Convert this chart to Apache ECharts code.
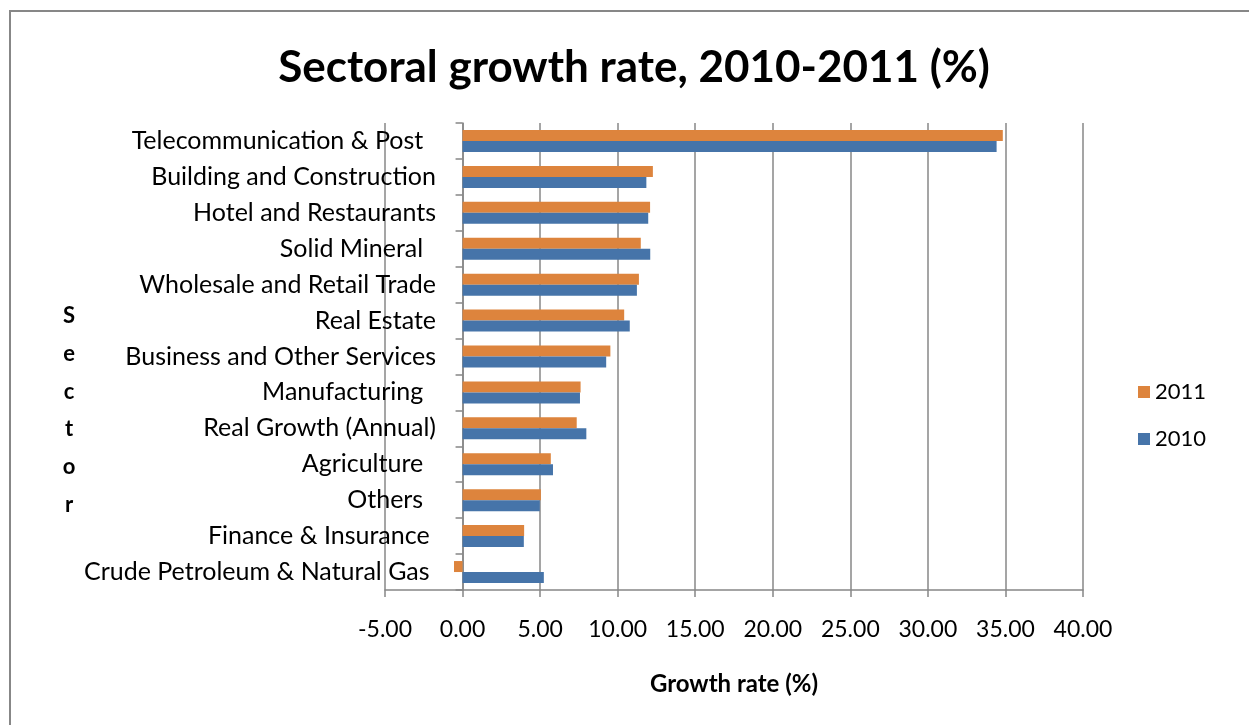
<!DOCTYPE html>
<html>
<head>
<meta charset="utf-8">
<title>Sectoral growth rate, 2010-2011 (%)</title>
<script src="https://cdn.jsdelivr.net/npm/echarts@6/dist/echarts.min.js"></script>
<style>
  html, body { margin: 0; padding: 0; background: #ffffff; }
  #chart { width: 1249px; height: 725px; }
</style>
</head>
<body>
<div id="chart"></div>
<script>
// Sectors, top to bottom (trailing spaces are part of the source labels)
const sectors = [
  'Telecommunication & Post  ',
  'Building and Construction',
  'Hotel and Restaurants',
  'Solid Mineral  ',
  'Wholesale and Retail Trade',
  'Real Estate',
  'Business and Other Services',
  'Manufacturing  ',
  'Real Growth (Annual)',
  'Agriculture  ',
  'Others  ',
  'Finance & Insurance ',
  'Crude Petroleum & Natural Gas '
];

// Growth rates (%) per sector
const growth2011 = [34.83, 12.27, 12.09, 11.49, 11.37, 10.42, 9.53, 7.61, 7.36, 5.69, 5.05, 3.97, -0.55];
const growth2010 = [34.43, 11.85, 11.97, 12.10, 11.24, 10.78, 9.26, 7.57, 7.98, 5.83, 4.98, 3.95, 5.24];

const seriesNames = ['2011', '2010'];
const xTicks = { min: -5, max: 40, step: 5 };

const FONT = 'Lato, "Open Sans", sans-serif';
const GRAY = '#878787';

const chart = echarts.init(document.getElementById('chart'), null, { renderer: 'canvas' });

chart.setOption({
  backgroundColor: '#ffffff',
  animation: false,
  title: {
    text: 'Sectoral growth rate, 2010-2011 (%)',
    left: 629,
    textAlign: 'center',
    top: 41,
    textStyle: { fontFamily: FONT, fontSize: 44, fontWeight: 'bold', color: '#000000' }
  },
  legend: {
    orient: 'vertical',
    left: 1133,
    top: 376,
    itemWidth: 12,
    itemHeight: 12,
    itemGap: 25,
    icon: 'rect',
    data: seriesNames,
    textStyle: { fontFamily: FONT, fontSize: 22, color: '#000000' }
  },
  grid: { left: 385, right: 166, top: 123, bottom: 135, containLabel: false },
  xAxis: {
    type: 'value',
    min: xTicks.min,
    max: xTicks.max,
    interval: xTicks.step,
    name: 'Growth rate (%)',
    nameLocation: 'middle',
    nameGap: 82,
    nameTextStyle: { fontFamily: FONT, fontSize: 24, fontWeight: 'bold', color: '#000000' },
    axisLine: { show: true, lineStyle: { color: GRAY, width: 1.5 } },
    axisTick: { show: true, length: 7, lineStyle: { color: GRAY, width: 1.5 } },
    axisLabel: {
      margin: 28,
      fontFamily: FONT, fontSize: 23, color: '#000000',
      formatter: v => v.toFixed(2)
    },
    splitLine: { show: true, lineStyle: { color: GRAY, width: 1.5 } }
  },
  yAxis: {
    type: 'category',
    inverse: true,
    data: sectors,
    axisLine: { show: true, onZero: true, lineStyle: { color: GRAY, width: 1.5 } },
    axisTick: { show: true, length: 7, lineStyle: { color: GRAY, width: 1.5 } },
    // labels sit just left of the zero line
    axisLabel: { margin: -51, fontFamily: FONT, fontSize: 25, color: '#000000' }
  },
  series: [
    {
      name: seriesNames[0],
      type: 'bar',
      data: growth2011,
      barWidth: 11,
      barGap: '0%',
      itemStyle: { color: '#DD843D' },
      z: 3
    },
    {
      name: seriesNames[1],
      type: 'bar',
      data: growth2010,
      barWidth: 11,
      barGap: '0%',
      itemStyle: { color: '#4674A9' },
      z: 3
    }
  ],
  graphic: [
    {
      type: 'rect',
      silent: true,
      shape: { x: 10, y: 11, width: 1300, height: 800 },
      style: { fill: 'none', stroke: GRAY, lineWidth: 2 }
    },
    {
      type: 'text',
      silent: true,
      x: 69,
      y: 410.5,
      style: {
        text: 'S\ne\nc\nt\no\nr',
        font: 'bold 22px ' + FONT,
        lineHeight: 37.8,
        fill: '#000000',
        align: 'center',
        verticalAlign: 'middle'
      }
    }
  ]
});
</script>
</body>
</html>
